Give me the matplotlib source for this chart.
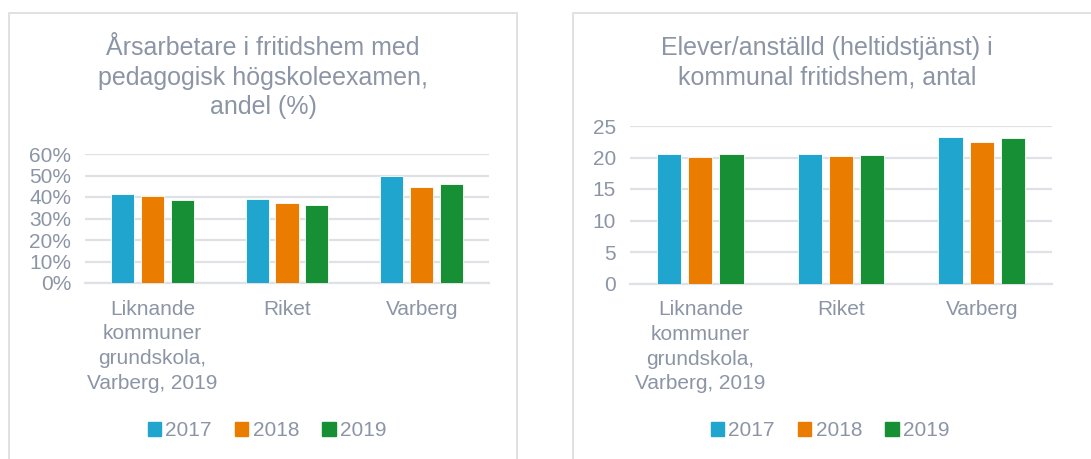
import matplotlib
matplotlib.use('Agg')
import matplotlib.pyplot as plt
import numpy as np
from matplotlib.patches import Rectangle, Patch
from matplotlib.ticker import FuncFormatter

categories = ['Liknande\nkommuner\ngrundskola,\nVarberg, 2019', 'Riket', 'Varberg']
years = ['2017', '2018', '2019']
# left chart: andel (%)
andel = {'2017': [41.5, 39.0, 50.0],
         '2018': [40.6, 37.1, 44.6],
         '2019': [38.8, 36.4, 46.2]}
# right chart: elever per anstalld
elever = {'2017': [20.6, 20.6, 23.2],
          '2018': [20.1, 20.3, 22.5],
          '2019': [20.5, 20.4, 23.1]}

colors = ['#1FA5CE', '#EA7D00', '#168F35']
txt = '#8C95A5'
grid = '#DEE1E6'
plt.rcParams['font.family'] = ['Liberation Sans', 'DejaVu Sans']

W, H = 1091, 459
fig = plt.figure(figsize=(W / 100, H / 100), dpi=100)

def px_axes(x0, x1, ytop, ybot):
    return fig.add_axes([x0 / W, 1 - ybot / H, (x1 - x0) / W, (ybot - ytop) / H])

# panel frames
for x0, x1 in [(9, 517), (573, 1100)]:
    fig.add_artist(Rectangle((x0 / W, -0.05), (x1 - x0) / W, 1.05 - 13 / H,
                             transform=fig.transFigure, fill=False,
                             edgecolor='#D9DCE0', linewidth=1.2))

def draw(ax, data, ymax, step, fmt, title, tx, leg_x):
    x = np.arange(len(categories))
    bw = 0.172
    off = 0.222
    for i, y in enumerate(years):
        ax.bar(x + (i - 1) * off, data[y], bw, color=colors[i], zorder=3,
               edgecolor='white', linewidth=0.6, label=y)
    ax.set_xlim(-0.5, len(categories) - 0.5)
    ax.set_ylim(0, ymax)
    ax.set_yticks(np.arange(0, ymax + 0.01, step))
    ax.yaxis.set_major_formatter(FuncFormatter(fmt))
    ax.grid(axis='y', color=grid, linewidth=1.6, zorder=0)
    for s in ['top', 'right', 'left']:
        ax.spines[s].set_visible(False)
    ax.spines['bottom'].set_color(grid)
    ax.spines['bottom'].set_linewidth(1.6)
    ax.set_xticks(x)
    ax.set_xticklabels(categories, linespacing=1.38)
    ax.tick_params(axis='both', length=0, labelsize=15, colors=txt)
    ax.tick_params(axis='x', pad=12)
    ax.tick_params(axis='y', pad=10)
    for lab in ax.get_xticklabels():
        lab.set_va('top')
        lab.set_ha('center')
    fig.text(tx / W, 1 - 36 / H, title, ha='center', va='top', fontsize=18,
             color=txt, linespacing=1.3)
    handles = [Patch(color=c) for c in colors]
    fig.legend(handles, years, loc='center', bbox_to_anchor=(leg_x / W, 1 - 431 / H),
               ncol=3, frameon=False, fontsize=15, labelcolor=txt,
               handlelength=0.65, handleheight=0.65, handletextpad=0.2,
               columnspacing=1.1)

ax1 = px_axes(85, 489, 154, 283)
draw(ax1, andel, 60, 10, lambda v, p: '%d%%' % v,
     'Årsarbetare i fritidshem med\npedagogisk högskoleexamen,\nandel (%)', 263, 267)

ax2 = px_axes(630, 1052, 126, 283.5)
draw(ax2, elever, 25, 5, lambda v, p: '%d' % v,
     'Elever/anställd (heltidstjänst) i\nkommunal fritidshem, antal', 827, 830)

fig.savefig('out.png', dpi=100)
